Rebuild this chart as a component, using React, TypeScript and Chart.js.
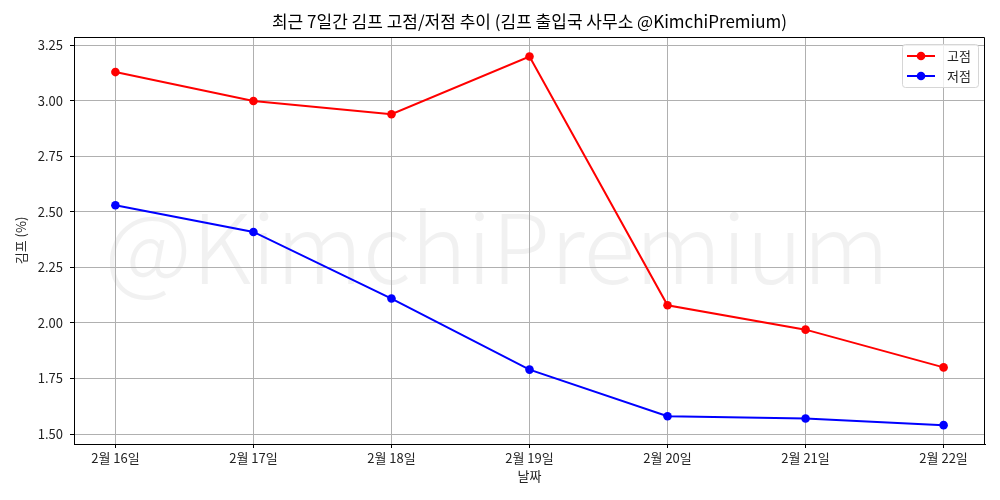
import React, { useEffect, useRef } from "react";
import { Chart, registerables } from "chart.js";

Chart.register(...registerables);

const categories = ["2월 16일", "2월 17일", "2월 18일", "2월 19일", "2월 20일", "2월 21일", "2월 22일"];
const highValues = [3.13, 3.0, 2.94, 3.2, 2.08, 1.97, 1.8];
const lowValues = [2.53, 2.41, 2.11, 1.79, 1.58, 1.57, 1.54];
const yTicks = [1.5, 1.75, 2.0, 2.25, 2.5, 2.75, 3.0, 3.25];
const seriesNames = ["고점", "저점"];
const seriesColors = ["#ff0000", "#0000ff"];
const titleText = "최근 7일간 김프 고점/저점 추이 (김프 출입국 사무소 @KimchiPremium)";
const watermarkText = "@KimchiPremium";
const xTitle = "날짜";
const yTitle = "김프 (%)";

const FONT = "'Noto Sans CJK KR', 'Noto Sans', sans-serif";

const decorPlugin = {
  id: "decor",
  beforeDraw(chart: any) {
    const { ctx } = chart;
    ctx.save();
    ctx.fillStyle = "#ffffff";
    ctx.fillRect(0, 0, chart.width, chart.height);
    // watermark
    ctx.fillStyle = "rgba(128,128,128,0.11)";
    let size = 110;
    ctx.font = `300 ${size}px ${FONT}`;
    const w = ctx.measureText(watermarkText).width;
    size = size * (785 / w);
    ctx.font = `300 ${size}px ${FONT}`;
    ctx.textAlign = "center";
    ctx.textBaseline = "alphabetic";
    ctx.fillText(watermarkText, 497, 284);
    ctx.restore();
  },
  afterDraw(chart: any) {
    const { ctx, chartArea } = chart;
    ctx.save();
    // top and right frame
    ctx.strokeStyle = "#000000";
    ctx.lineWidth = 1;
    const l = Math.round(chartArea.left), t = Math.round(chartArea.top) + 0.5;
    const r = Math.round(chartArea.right) - 0.5, b = Math.round(chartArea.bottom);
    ctx.beginPath();
    ctx.moveTo(l, t);
    ctx.lineTo(r, t);
    ctx.lineTo(r, b);
    ctx.stroke();
    // title
    ctx.fillStyle = "#000000";
    ctx.font = `17px ${FONT}`;
    ctx.textAlign = "center";
    ctx.textBaseline = "middle";
    ctx.fillText(titleText, (chartArea.left + chartArea.right) / 2, 22);
    // legend
    const lx = 902, ly = 44, lw = 76, lh = 43;
    ctx.fillStyle = "rgba(255,255,255,0.8)";
    ctx.strokeStyle = "#d6d6d6";
    ctx.lineWidth = 1;
    ctx.beginPath();
    (ctx as any).roundRect(lx + 0.5, ly + 0.5, lw, lh, 3);
    ctx.fill();
    ctx.stroke();
    ctx.font = `13px ${FONT}`;
    ctx.textAlign = "left";
    ctx.textBaseline = "middle";
    seriesNames.forEach((name, i) => {
      const y = ly + 12 + i * 20;
      ctx.strokeStyle = seriesColors[i];
      ctx.lineWidth = 2;
      ctx.beginPath();
      ctx.moveTo(907, y);
      ctx.lineTo(935, y);
      ctx.stroke();
      ctx.fillStyle = seriesColors[i];
      ctx.beginPath();
      ctx.arc(921, y, 4.3, 0, Math.PI * 2);
      ctx.fill();
      ctx.fillStyle = "#222222";
      ctx.fillText(name, 947, y);
    });
    ctx.restore();
  },
};

export default function App() {
  const ref = useRef<HTMLCanvasElement>(null);
  useEffect(() => {
    if (!ref.current) return;
    const mk = (vals: number[]) => vals.map((v, i) => ({ x: i, y: v }));
    const ds = (i: number, vals: number[]) => ({
      label: seriesNames[i],
      data: mk(vals),
      borderColor: seriesColors[i],
      backgroundColor: seriesColors[i],
      borderWidth: 2,
      pointRadius: 4.3,
      pointHoverRadius: 4.3,
      pointBorderWidth: 0,
      tension: 0,
    });
    const chart = new Chart(ref.current, {
      type: "line",
      data: { datasets: [ds(0, highValues), ds(1, lowValues)] },
      options: {
        responsive: false,
        animation: false,
        layout: { padding: { top: 37, right: 15, bottom: 0, left: 0 } },
        plugins: {
          legend: { display: false },
          title: { display: false },
          tooltip: { enabled: false },
        },
        scales: {
          x: {
            type: "linear",
            min: -0.3,
            max: 6.3,
            afterBuildTicks: (scale: any) => {
              scale.ticks = categories.map((_, i) => ({ value: i }));
            },
            afterFit: (scale: any) => {
              scale.height = 56;
            },
            ticks: {
              callback: (v: any) => categories[v as number] ?? "",
              font: { family: FONT, size: 13 },
              color: "#222222",
              padding: 2,
              maxRotation: 0,
              autoSkip: false,
            },
            grid: { color: "#b0b0b0", lineWidth: 1, tickColor: "#000000", tickLength: 4 },
            border: { display: true, color: "#000000", width: 1 },
            title: {
              display: true,
              text: xTitle,
              font: { family: FONT, size: 13 },
              color: "#222222",
              padding: { top: 0, bottom: 16 },
            },
          },
          y: {
            type: "linear",
            min: 1.455,
            max: 3.288,
            afterBuildTicks: (scale: any) => {
              scale.ticks = yTicks.map((v) => ({ value: v }));
            },
            afterFit: (scale: any) => {
              scale.width = 74;
            },
            ticks: {
              callback: (v: any) => Number(v).toFixed(2),
              font: { family: FONT, size: 13 },
              color: "#222222",
              padding: 7,
            },
            grid: { color: "#b0b0b0", lineWidth: 1, tickColor: "#000000", tickLength: 4 },
            border: { display: true, color: "#000000", width: 1 },
            title: {
              display: true,
              text: yTitle,
              font: { family: FONT, size: 13 },
              color: "#222222",
              padding: { top: 13, bottom: 0 },
            },
          },
        },
      },
      plugins: [decorPlugin],
    } as any);
    return () => chart.destroy();
  }, []);
  return (
    <div style={{ position: "fixed", left: 0, top: 0, width: 1000, height: 500 }}>
      <canvas ref={ref} width={1000} height={500} style={{ display: "block" }} />
    </div>
  );
}
